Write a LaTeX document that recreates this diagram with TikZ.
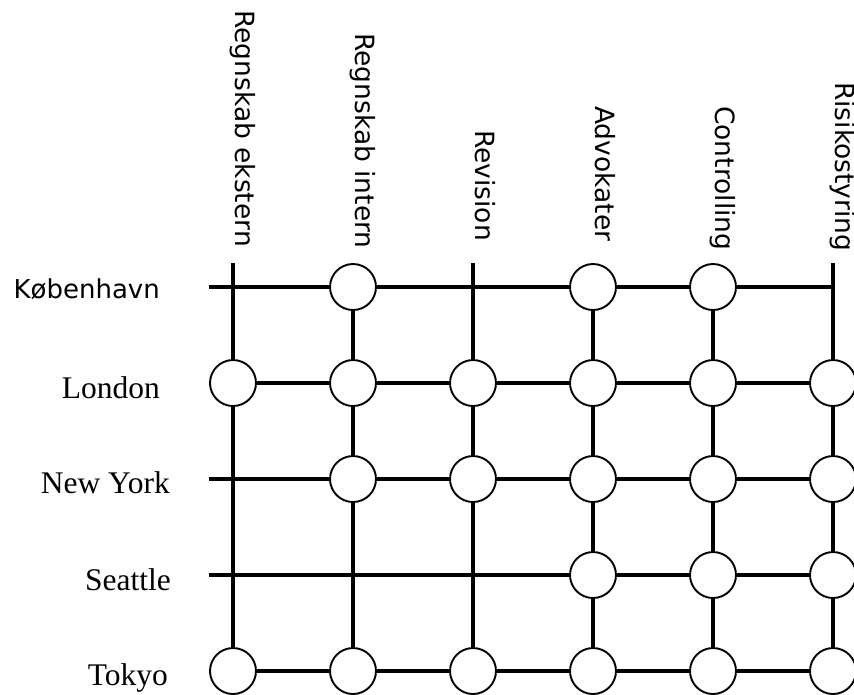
\documentclass[tikz,border=0pt]{standalone}
\usepackage{fontspec}
\setmainfont{Liberation Serif}
\newfontfamily\labfont{DejaVu Sans}
\usetikzlibrary{positioning}

\begin{document}
\begin{tikzpicture}[
  x=1pt,y=-1pt,
  hub/.style={circle,draw,line width=1.9pt,fill=white,minimum size=46pt,inner sep=0pt},
  gridline/.style={line width=3.5pt},
  collab/.style={rotate=-90,anchor=base west,inner sep=0pt,font=\labfont\fontsize{26.5}{26.5}\selectfont},
  rowlab/.style={anchor=base east,inner sep=0pt,font=\fontsize{31.5}{31.5}\selectfont}]
  \useasboundingbox (0,0) rectangle (854,694);
  % column labels
  \node[collab] (rek) at (235,10) {Regnskab ekstern};
  \node[collab] (rin) at (355,33) {Regnskab intern};
  \node[collab] (rev) at (475,130) {Revision};
  \node[collab] (adv) at (595,106) {Advokater};
  \node[collab] (con) at (715,106) {Controlling};
  \node[collab] (ris) at (835,82) {Risikostyring};
  % row labels
  \node[rowlab,font=\labfont\fontsize{26}{26}\selectfont] (kbh) at (160,298) {København};
  \node[rowlab] (lon) at (160,398) {London};
  \node[rowlab] (nyc) at (170,493) {New York};
  \node[rowlab] (sea) at (171,590) {Seattle};
  \node[rowlab] (tyo) at (168,685) {Tokyo};
  % free ends of the grid
  \coordinate (top1) at (233,263);
  \coordinate (top3) at (473,263);
  \coordinate (top6) at (833,263);
  \coordinate (k0) at (209,287);
  \coordinate (l0) at (209,383);
  \coordinate (n0) at (209,479);
  \coordinate (s0) at (209,575);
  \coordinate (t0) at (209,671);
  % Koebenhavn
  \coordinate (k1) at (233,287);
  \node[hub] (k2) at (353,287) {};
  \coordinate (k3) at (473,287);
  \node[hub] (k4) at (593,287) {};
  \node[hub] (k5) at (713,287) {};
  \coordinate (k6) at (833,287);
  % London
  \node[hub] (l1) at (233,383) {};
  \node[hub] (l2) at (353,383) {};
  \node[hub] (l3) at (473,383) {};
  \node[hub] (l4) at (593,383) {};
  \node[hub] (l5) at (713,383) {};
  \node[hub] (l6) at (833,383) {};
  % New York
  \coordinate (n1) at (233,479);
  \node[hub] (n2) at (353,479) {};
  \node[hub] (n3) at (473,479) {};
  \node[hub] (n4) at (593,479) {};
  \node[hub] (n5) at (713,479) {};
  \node[hub] (n6) at (833,479) {};
  % Seattle
  \coordinate (s1) at (233,575);
  \coordinate (s2) at (353,575);
  \coordinate (s3) at (473,575);
  \node[hub] (s4) at (593,575) {};
  \node[hub] (s5) at (713,575) {};
  \node[hub] (s6) at (833,575) {};
  % Tokyo
  \node[hub] (t1) at (233,671) {};
  \node[hub] (t2) at (353,671) {};
  \node[hub] (t3) at (473,671) {};
  \node[hub] (t4) at (593,671) {};
  \node[hub] (t5) at (713,671) {};
  \node[hub] (t6) at (833,671) {};
  % rows
  \draw[gridline] (k0) -- (k1) -- (k2) -- (k3) -- (k4) -- (k5) -- (k6);
  \draw[gridline] (l0) -- (l1) -- (l2) -- (l3) -- (l4) -- (l5) -- (l6);
  \draw[gridline] (n0) -- (n1) -- (n2) -- (n3) -- (n4) -- (n5) -- (n6);
  \draw[gridline] (s0) -- (s1) -- (s2) -- (s3) -- (s4) -- (s5) -- (s6);
  \draw[gridline] (t0) -- (t1) -- (t2) -- (t3) -- (t4) -- (t5) -- (t6);
  % columns
  \draw[gridline] (top1) -- (k1) -- (l1) -- (n1) -- (s1) -- (t1);
  \draw[gridline] (k2) -- (l2) -- (n2) -- (s2) -- (t2);
  \draw[gridline] (top3) -- (k3) -- (l3) -- (n3) -- (s3) -- (t3);
  \draw[gridline] (k4) -- (l4) -- (n4) -- (s4) -- (t4);
  \draw[gridline] (k5) -- (l5) -- (n5) -- (s5) -- (t5);
  \draw[gridline] (top6) -- (k6) -- (l6) -- (n6) -- (s6) -- (t6);
\end{tikzpicture}
\end{document}
